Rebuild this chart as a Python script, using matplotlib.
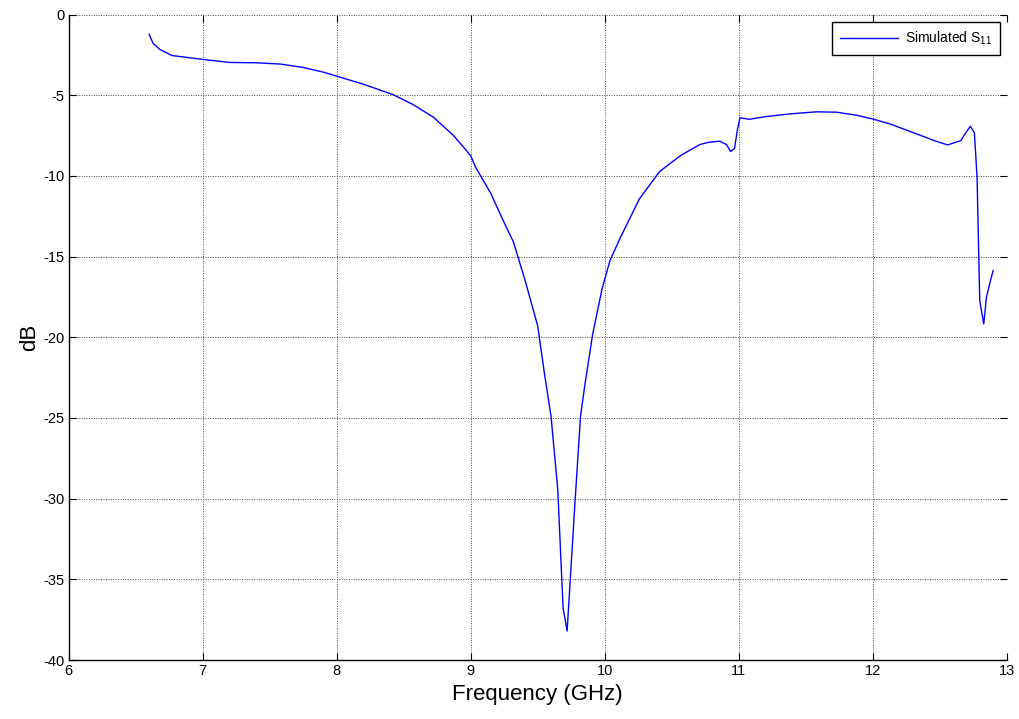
import matplotlib
matplotlib.use("Agg")
import matplotlib.pyplot as plt
import numpy as np

plt.rcParams['font.family'] = ['Liberation Sans', 'DejaVu Sans']
plt.rcParams['axes.unicode_minus'] = False
plt.rcParams['mathtext.fontset'] = 'custom'
plt.rcParams['mathtext.rm'] = 'Liberation Sans'
plt.rcParams['mathtext.it'] = 'Liberation Sans'
plt.rcParams['mathtext.default'] = 'regular'

# Simulated S11 of the antenna (frequency in GHz, magnitude in dB)
freq_ghz = [6.60, 6.63, 6.68, 6.77, 7.00, 7.20, 7.40, 7.58, 7.75, 7.90,
            8.00, 8.20, 8.42, 8.57, 8.72, 8.87, 8.95, 9.00, 9.04, 9.15,
            9.23, 9.32, 9.41, 9.50, 9.55, 9.60, 9.65, 9.69, 9.72, 9.78,
            9.82, 9.85, 9.91, 9.98, 10.04, 10.12, 10.26, 10.41, 10.57, 10.71,
            10.78, 10.86, 10.91, 10.94, 10.97, 10.99, 11.01, 11.08, 11.21, 11.38,
            11.58, 11.73, 11.88, 12.00, 12.13, 12.33, 12.46, 12.56, 12.66, 12.69,
            12.73, 12.76, 12.78, 12.80, 12.83, 12.85, 12.88, 12.90]
s11_db = [-1.23, -1.79, -2.16, -2.54, -2.78, -2.97, -2.99, -3.07, -3.28, -3.57,
          -3.82, -4.32, -4.96, -5.58, -6.35, -7.48, -8.25, -8.75, -9.51, -11.08,
          -12.54, -14.11, -16.58, -19.28, -22.2, -24.9, -29.4, -36.8, -38.2, -30.07,
          -24.9, -23.1, -19.84, -17.03, -15.24, -13.78, -11.42, -9.73, -8.72, -8.06,
          -7.91, -7.85, -8.06, -8.49, -8.29, -7.19, -6.40, -6.49, -6.32, -6.16,
          -6.03, -6.05, -6.24, -6.47, -6.78, -7.40, -7.81, -8.08, -7.81, -7.40,
          -6.92, -7.33, -10.08, -17.73, -19.17, -17.52, -16.49, -15.87]

x_ticks = [6, 7, 8, 9, 10, 11, 12, 13]
y_ticks = [0, -5, -10, -15, -20, -25, -30, -35, -40]

fig = plt.figure(figsize=(10.2, 7.19), dpi=100)
ax = fig.add_axes([0.0674, 0.082, 0.9194, 0.8978])

ax.plot(freq_ghz, s11_db, color='#0000ff', linewidth=1.0, label='Simulated S$_{11}$')

ax.set_xlim(6, 13)
ax.set_ylim(-40, 0)
ax.set_xticks(x_ticks)
ax.set_yticks(y_ticks)
ax.tick_params(direction='in', length=5, width=0.8, labelsize=10.5,
               top=True, right=True, pad=3, colors='black')

ax.grid(True, color='#444444', linestyle=(0, (1, 1.5)), linewidth=0.7)
for side in ('top', 'right'):
    ax.spines[side].set_visible(False)
for side in ('left', 'bottom'):
    ax.spines[side].set_linewidth(1.0)

ax.set_xlabel('Frequency (GHz)', fontsize=16, labelpad=4)
ax.set_ylabel('dB', fontsize=16, labelpad=2)

leg = ax.legend(loc='upper right', bbox_to_anchor=(0.993, 0.988), fontsize=10,
                frameon=True, fancybox=False, framealpha=1, edgecolor='black',
                handlelength=4.2, borderpad=0.55, handletextpad=0.5,
                borderaxespad=0)
leg.get_frame().set_linewidth(1.0)

fig.savefig('out.png', dpi=100)
